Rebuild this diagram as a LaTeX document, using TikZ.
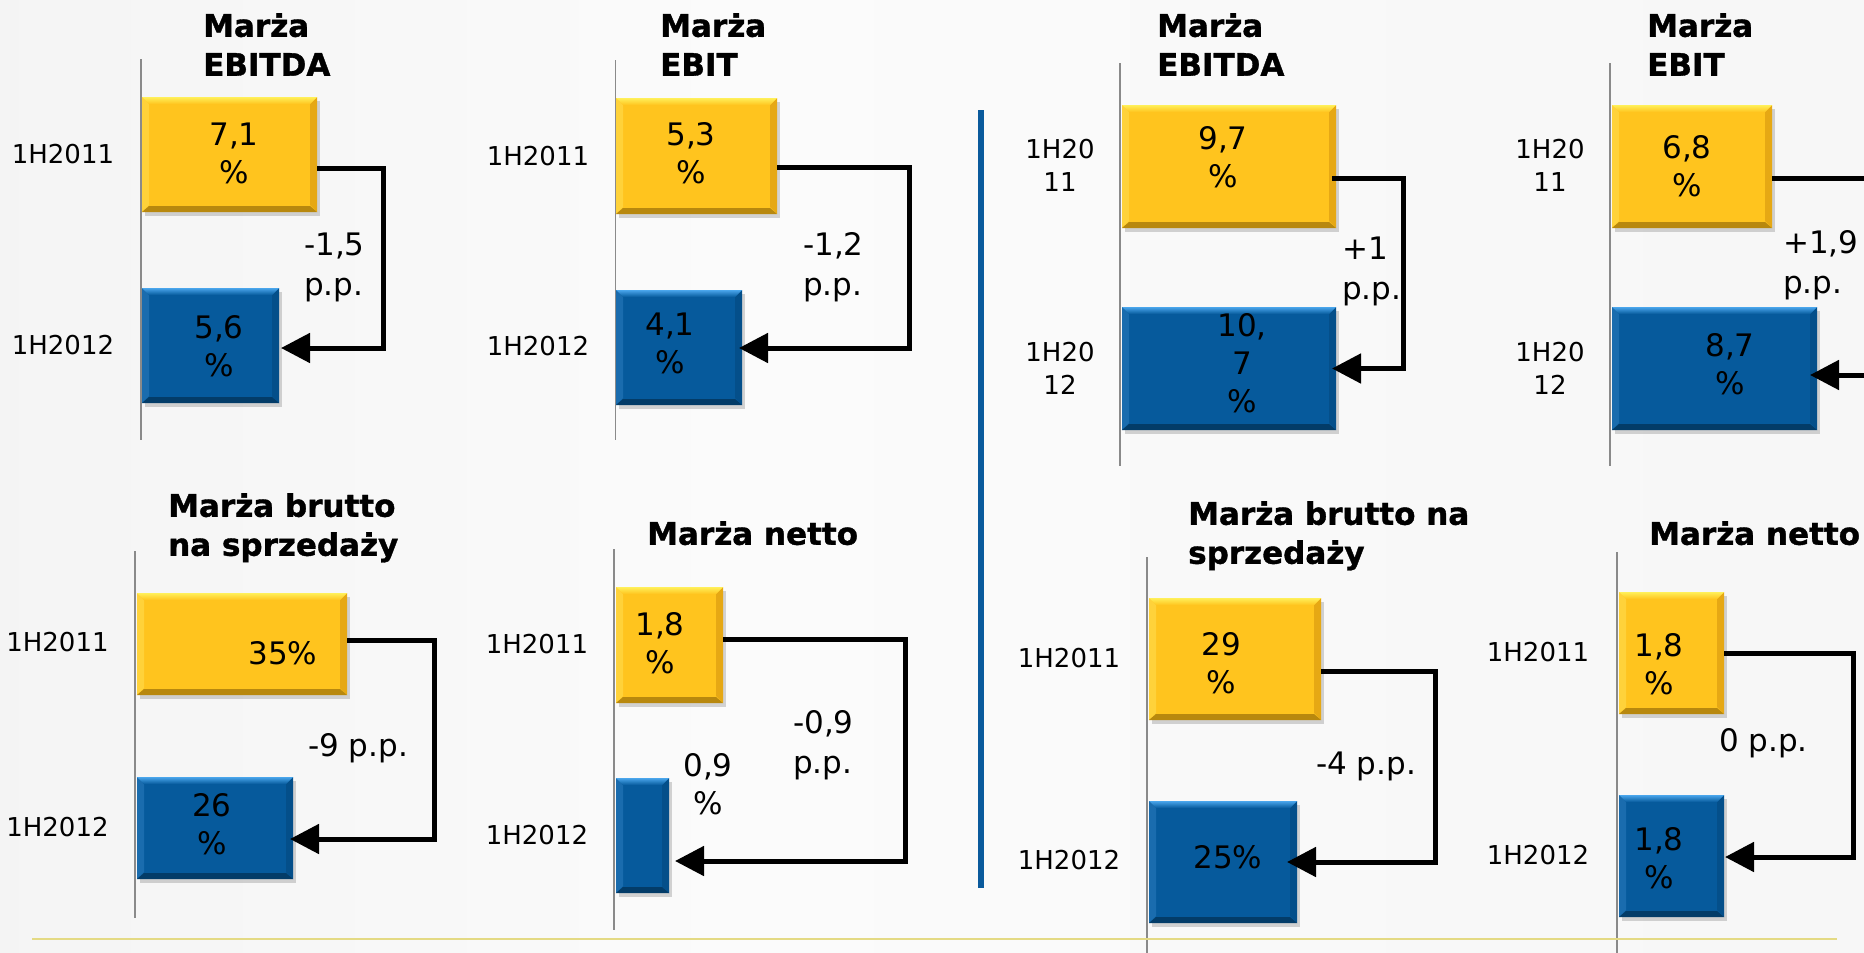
\documentclass[tikz,border=0pt]{standalone}
\usepackage{fontspec}
\setmainfont{DejaVu Sans}
\newfontfamily\ttlfont[FakeBold=1.2]{DejaVu Sans Bold}
\usetikzlibrary{arrows.meta}
\definecolor{ymain}{HTML}{FFC41E}
\definecolor{ytop}{HTML}{FFF05A}
\definecolor{yleft}{HTML}{FFD23A}
\definecolor{yright}{HTML}{E6A814}
\definecolor{ybot}{HTML}{B8880E}
\definecolor{bmain}{HTML}{065A9C}
\definecolor{btop}{HTML}{4AA6EC}
\definecolor{bleft}{HTML}{1A6CAE}
\definecolor{bright}{HTML}{044F8A}
\definecolor{bbot}{HTML}{033C68}
\definecolor{bgL}{HTML}{ECECEC}
\definecolor{bgM}{HTML}{FBFBFB}
\definecolor{bgR}{HTML}{F3F3F3}
\definecolor{axisgray}{HTML}{8A8A8A}
\definecolor{sepblue}{HTML}{0A5A9C}
\definecolor{lineyel}{HTML}{E4DA84}
\pgfdeclarehorizontalshading{bgshade}{100bp}{color(0bp)=(bgL); color(45bp)=(bgM); color(100bp)=(bgR)}
\newcommand\mkbar[6]{%
  \fill[black, opacity=0.16] (#3+3, #4+4) rectangle ++(#5, #6);
  \node[#2, minimum width=#5pt, minimum height=#6pt] (#1) at (#3,#4) {};
}
\begin{document}
\begin{tikzpicture}[x=1pt, y=-1pt,
  barbase/.style={rectangle, inner sep=0pt, outer sep=0pt, anchor=north west},
  ybar/.style={barbase, fill=ymain, path picture={
    \fill[yleft] (path picture bounding box.north west) -- (path picture bounding box.south west) -- ([shift={(7pt,7pt)}]path picture bounding box.south west) -- ([shift={(7pt,-7pt)}]path picture bounding box.north west) -- cycle;
    \fill[yright] (path picture bounding box.north east) -- (path picture bounding box.south east) -- ([shift={(-7pt,7pt)}]path picture bounding box.south east) -- ([shift={(-7pt,-7pt)}]path picture bounding box.north east) -- cycle;
    \shade[top color=ytop, bottom color=ymain] (path picture bounding box.north west) -- (path picture bounding box.north east) -- ([shift={(-7pt,-7pt)}]path picture bounding box.north east) -- ([shift={(7pt,-7pt)}]path picture bounding box.north west) -- cycle;
    \fill[ybot] (path picture bounding box.south west) -- (path picture bounding box.south east) -- ([shift={(-7pt,6pt)}]path picture bounding box.south east) -- ([shift={(7pt,6pt)}]path picture bounding box.south west) -- cycle;
  }},
  bbar/.style={barbase, fill=bmain, path picture={
    \fill[bleft] (path picture bounding box.north west) -- (path picture bounding box.south west) -- ([shift={(7pt,7pt)}]path picture bounding box.south west) -- ([shift={(7pt,-7pt)}]path picture bounding box.north west) -- cycle;
    \fill[bright] (path picture bounding box.north east) -- (path picture bounding box.south east) -- ([shift={(-7pt,7pt)}]path picture bounding box.south east) -- ([shift={(-7pt,-7pt)}]path picture bounding box.north east) -- cycle;
    \shade[top color=btop, bottom color=bmain] (path picture bounding box.north west) -- (path picture bounding box.north east) -- ([shift={(-7pt,-7pt)}]path picture bounding box.north east) -- ([shift={(7pt,-7pt)}]path picture bounding box.north west) -- cycle;
    \fill[bbot] (path picture bounding box.south west) -- (path picture bounding box.south east) -- ([shift={(-7pt,6pt)}]path picture bounding box.south east) -- ([shift={(7pt,6pt)}]path picture bounding box.south west) -- cycle;
  }},
  lbl/.style={font=\fontsize{26}{33}\selectfont, inner sep=0pt, align=center},
  val/.style={font=\fontsize{31}{38}\selectfont, inner sep=0pt, align=center},
  chg/.style={font=\fontsize{31}{40}\selectfont, inner sep=0pt, align=left, anchor=north west},
  ttl/.style={font=\fontsize{31}{39}\ttlfont, inner sep=0pt, align=left, anchor=north west},
  conn/.style={line width=5pt, line join=miter, -{Triangle[length=29pt,width=29pt]}},
  axisline/.style={draw=axisgray, line width=1.5pt},
]
\useasboundingbox (0,0) rectangle (1864,953);
\clip (0,0) rectangle (1864,953);
\shade[shading=bgshade] (0,0) rectangle (1864,953);

% axes
\draw[axisline] (141,59) -- (141,440);
\draw[axisline] (615.5,60) -- (615.5,440);
\draw[axisline] (1120,63) -- (1120,466);
\draw[axisline] (1610,63) -- (1610,466);
\draw[axisline] (135,551) -- (135,918);
\draw[axisline] (614,549) -- (614,930);
\draw[axisline] (1147,557) -- (1147,953);
\draw[axisline] (1617,552) -- (1617,953);

% separator and bottom line
\draw[sepblue, line width=6pt] (981,110) -- (981,888);
\draw[lineyel, line width=2.5pt] (32,939) -- (1837,939);

% bars
\mkbar{p1y}{ybar}{142}{97}{175}{115}
\mkbar{p1b}{bbar}{142}{288}{137}{115}
\mkbar{p2y}{ybar}{616}{98}{161}{116}
\mkbar{p2b}{bbar}{616}{290}{126}{115}
\mkbar{p3y}{ybar}{1122}{105}{214}{123}
\mkbar{p3b}{bbar}{1122}{307}{214}{123}
\mkbar{p4y}{ybar}{1612}{105}{160}{123}
\mkbar{p4b}{bbar}{1612}{307}{205}{123}
\mkbar{p5y}{ybar}{137}{593}{210}{102}
\mkbar{p5b}{bbar}{137}{777}{156}{102}
\mkbar{p6y}{ybar}{616}{587}{107}{116}
\mkbar{p6b}{bbar}{616}{778}{53}{115}
\mkbar{p7y}{ybar}{1149}{598}{172}{122}
\mkbar{p7b}{bbar}{1149}{801}{148}{122}
\mkbar{p8y}{ybar}{1619}{592}{105}{122}
\mkbar{p8b}{bbar}{1619}{795}{105}{122}

% connectors
\draw[conn] ([yshift=-13.5pt]p1y.east) -- ++(66,0) |- ([xshift=2pt,yshift=-2.5pt]p1b.east);
\draw[conn] ([yshift=-11pt]p2y.east) -- ++(132,0) |- ([xshift=-3pt,yshift=-0.5pt]p2b.east);
\draw[conn] ([xshift=-4pt,yshift=-11.5pt]p3y.east) -- ++(71,0) |- ([xshift=-4pt]p3b.east);
\draw[conn] ([yshift=-11.5pt]p4y.east) -- ++(117,0) |- ([xshift=-7pt,yshift=-6.5pt]p4b.east);
\draw[conn] ([yshift=4pt]p5y.east) -- ++(87,0) |- ([xshift=-3pt,yshift=-11pt]p5b.east);
\draw[conn] ([yshift=6pt]p6y.east) -- ++(182,0) |- ([xshift=6pt,yshift=-25.5pt]p6b.east);
\draw[conn] ([yshift=-12pt]p7y.east) -- ++(114,0) |- ([xshift=-10pt]p7b.east);
\draw[conn] (p8y.east) -- ++(129,0) |- ([xshift=1pt,yshift=-1pt]p8b.east);

% titles
\node[ttl] (t1) at (203,13) {Marża\\EBITDA};
\node[ttl] (t2) at (660,13) {Marża\\EBIT};
\node[ttl] (t3) at (1157,13) {Marża\\EBITDA};
\node[ttl] (t4) at (1647,13) {Marża\\EBIT};
\node[ttl] (t5) at (168,493) {Marża brutto\\na sprzedaży};
\node[ttl] (t6) at (647,521) {Marża netto};
\node[ttl] (t7) at (1188,501) {Marża brutto na\\sprzedaży};
\node[ttl] (t8) at (1649,521) {Marża netto};

% period labels
\node[lbl] (l1a) at (63,154.5) {1H2011};
\node[lbl] (l1b) at (63,345.5) {1H2012};
\node[lbl] (l2a) at (538,156) {1H2011};
\node[lbl] (l2b) at (538,346.5) {1H2012};
\node[lbl, anchor=north] (l3a) at (1060,139) {1H20\\11};
\node[lbl, anchor=north] (l3b) at (1060,342) {1H20\\12};
\node[lbl, anchor=north] (l4a) at (1550,139) {1H20\\11};
\node[lbl, anchor=north] (l4b) at (1550,342) {1H20\\12};
\node[lbl] (l5a) at (57.5,642.5) {1H2011};
\node[lbl] (l5b) at (57.5,827.5) {1H2012};
\node[lbl] (l6a) at (537,644.5) {1H2011};
\node[lbl] (l6b) at (537,835.5) {1H2012};
\node[lbl] (l7a) at (1069,658.5) {1H2011};
\node[lbl] (l7b) at (1069,860.5) {1H2012};
\node[lbl] (l8a) at (1538,652.5) {1H2011};
\node[lbl] (l8b) at (1538,855.5) {1H2012};

% values
\node[val, anchor=north] (v1a) at (234,123) {7,1\\\%};
\node[val, anchor=north] (v1b) at (219,315) {5,6\\\%};
\node[val, anchor=north] (v2a) at (691,122) {5,3\\\%};
\node[val, anchor=north] (v2b) at (670,313) {4,1\\\%};
\node[val, anchor=north] (v3a) at (1223,126) {9,7\\\%};
\node[val, anchor=north] (v3b) at (1242,313) {10,\\7\\\%};
\node[val, anchor=north] (v4a) at (1687,135) {6,8\\\%};
\node[val, anchor=north] (v4b) at (1730,333) {8,7\\\%};
\node[val] (v5a) at (283,653) {35\%};
\node[val, anchor=north] (v5b) at (212,793) {26\\\%};
\node[val, anchor=north] (v6a) at (660,612) {1,8\\\%};
\node[val, anchor=north] (v6b) at (708,753) {0,9\\\%};
\node[val, anchor=north] (v7a) at (1221,632) {29\\\%};
\node[val] (v7b) at (1228,857) {25\%};
\node[val, anchor=north] (v8a) at (1659,633) {1,8\\\%};
\node[val, anchor=north] (v8b) at (1659,827) {1,8\\\%};

% changes
\node[chg] (c1) at (304,233) {-1,5\\p.p.};
\node[chg] (c2) at (803,232) {-1,2\\p.p.};
\node[chg] (c3) at (1342,237) {+1\\p.p.};
\node[chg] (c4) at (1783,230) {+1,9\\p.p.};
\node[chg] (c5) at (308,733) {-9 p.p.};
\node[chg] (c6) at (793,710) {-0,9\\p.p.};
\node[chg] (c7) at (1316,752) {-4 p.p.};
\node[chg] (c8) at (1719,728) {0 p.p.};
\end{tikzpicture}
\end{document}
